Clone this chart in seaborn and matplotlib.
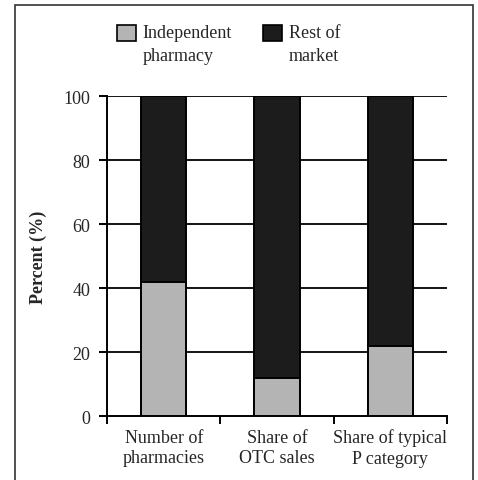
import matplotlib
matplotlib.use('Agg')
import matplotlib.pyplot as plt
import matplotlib.patches as mpatches
from matplotlib.legend_handler import HandlerPatch
import seaborn as sns
import pandas as pd

categories = ['Number of\npharmacies', 'Share of\nOTC sales', 'Share of typical\nP category']
independent = [42, 12, 22]
rest_of_market = [58, 88, 78]

df = pd.DataFrame({'category': categories,
                   'independent': independent,
                   'total': [a + b for a, b in zip(independent, rest_of_market)]})

sns.set_style("white")
plt.rcParams['font.family'] = ['Liberation Serif', 'DejaVu Serif']

gray = '#b4b4b4'
dark = '#1c1c1c'
fs = 13

fig = plt.figure(figsize=(4.78, 4.81), dpi=100)
ax = fig.add_axes([0.224, 0.133, 0.711, 0.665])

# stacked bars: full height dark, independent share in gray on top
sns.barplot(data=df, x='category', y='total', color=dark, width=0.4,
            edgecolor='black', linewidth=1.4, ax=ax, zorder=3, saturation=1)
sns.barplot(data=df, x='category', y='independent', color=gray, width=0.4,
            edgecolor='black', linewidth=1.4, ax=ax, zorder=4, saturation=1)

ax.set_xlim(-0.5, 2.5)
ax.set_ylim(0, 100)
ax.set_yticks(range(0, 101, 20))
for y in range(20, 101, 20):
    ax.axhline(y, color='black', linewidth=1.3, zorder=1)

for s in ['top', 'right']:
    ax.spines[s].set_visible(False)
for s in ['left', 'bottom']:
    ax.spines[s].set_color('black')
    ax.spines[s].set_linewidth(1.4)

ax.set_xticks([-0.5, 0.5, 1.5, 2.5], minor=True)
ax.tick_params(axis='x', which='minor', direction='out', length=6, width=1.4, color='black', bottom=True)
ax.tick_params(axis='x', which='major', length=0, pad=9, labelsize=fs)
ax.tick_params(axis='y', direction='out', length=6, width=1.4, color='black', left=True, labelsize=fs, pad=6)
for t in ax.get_xticklabels():
    t.set_linespacing(1.25)

ax.set_xlabel('')
ax.set_ylabel('Percent (%)', fontsize=fs, fontweight='bold', labelpad=12)


# legend boxes sit next to the first line of the two-line labels
def upper_box(legend, orig_handle, xdescent, ydescent, width, height, fontsize):
    return mpatches.Rectangle((-xdescent, -ydescent + 0.62 * fontsize), width, height)


handles = [mpatches.Patch(facecolor=gray, edgecolor='black', linewidth=1.2, label='Independent\npharmacy'),
           mpatches.Patch(facecolor=dark, edgecolor='black', linewidth=1.2, label='Rest of\nmarket')]
leg = fig.legend(handles=handles, ncol=2, loc='upper left', bbox_to_anchor=(0.229, 0.964),
                 frameon=False, fontsize=fs, handlelength=1.05, handleheight=1.05,
                 handletextpad=0.4, columnspacing=1.7, borderaxespad=0,
                 handler_map={mpatches.Patch: HandlerPatch(patch_func=upper_box)})
for t in leg.get_texts():
    t.set_linespacing(1.5)

# outer frame around the figure
frame = mpatches.Rectangle((0.031, -0.1), 0.958, 1.088, transform=fig.transFigure,
                           fill=False, edgecolor='#333333', linewidth=1.2, clip_on=False)
fig.patches.append(frame)

plt.savefig('out.png', dpi=100)
